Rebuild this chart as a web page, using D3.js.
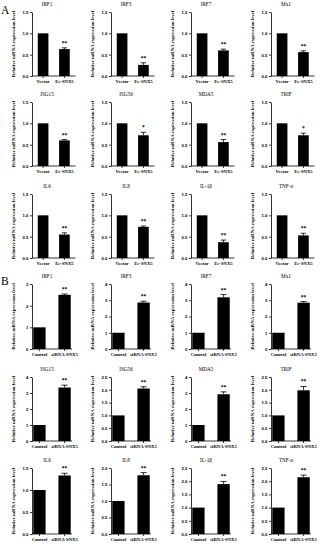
<!DOCTYPE html>
<html lang="en">
<head>
<meta charset="UTF-8">
<title>SNX5 qPCR panels</title>
<script src="https://d3js.org/d3.v7.min.js"></script>
<style>
  body { margin: 0; background: #fff; }
  svg { display: block; font-family: "Liberation Serif", "DejaVu Serif", serif; }
  .tick text { font-weight: bold; font-size: 4.3px; }
  .axis path, .axis line { stroke: #000; stroke-width: 0.8; }
</style>
</head>
<body>
<svg width="326" height="550"></svg>
<script>
// genes (panel titles), shared by A and B
const genes = ["IRF1", "IRF3", "IRF7", "Mx1", "ISG15", "ISG56", "MDA5", "TRIF", "IL6", "IL8", "IL-1β", "TNF-α"];

// panel A: overexpression
const groupsA = ["Vector", "Ec-SNX5"];
const ctrlA = [1, 1, 1, 1, 1, 1, 1, 1, 1, 1, 1, 1];
const valuesA = [0.63, 0.26, 0.60, 0.56, 0.60, 0.72, 0.56, 0.72, 0.55, 0.73, 0.37, 0.53];
const errorsA = [0.03, 0.05, 0.03, 0.03, 0.02, 0.07, 0.06, 0.05, 0.04, 0.02, 0.05, 0.05];
const starsA = ["**", "**", "**", "**", "**", "*", "**", "*", "**", "**", "**", "**"];
const yMaxA = [1.5, 1.5, 1.5, 1.5, 1.5, 1.5, 1.5, 1.5, 1.5, 1.5, 1.5, 1.5];
const stepA = [0.5, 0.5, 0.5, 0.5, 0.5, 0.5, 0.5, 0.5, 0.5, 0.5, 0.5, 0.5];

// panel B: knockdown
const groupsB = ["Control", "siRNA-SNX5"];
const ctrlB = [1, 1, 1, 1, 1, 1, 1, 1, 1, 1, 1, 1];
const valuesB = [2.50, 2.86, 3.18, 2.85, 3.34, 2.05, 2.92, 1.98, 1.33, 1.78, 1.89, 2.15];
const errorsB = [0.04, 0.08, 0.17, 0.07, 0.15, 0.07, 0.15, 0.15, 0.05, 0.08, 0.10, 0.08];
const starsB = ["**", "**", "**", "**", "**", "**", "**", "**", "**", "**", "**", "**"];
const yMaxB = [3, 4, 4, 4, 4, 2.5, 4, 2.5, 1.5, 2.0, 2.5, 2.5];
const stepB = [1, 1, 1, 1, 1, 0.5, 1, 0.5, 0.5, 0.5, 0.5, 0.5];

const svg = d3.select("svg");

// axis x of each column, and y-axis top/bottom of each row
const colX = [32, 111, 191, 271];
const rowsA = [[12, 76], [102, 166], [194, 258]];
const rowsB = [[284, 349], [377, 441], [468, 534]];

function panel(i, rows, groups, ctrl, vals, errs, stars, yMax, step, band) {
    const ax = colX[i % 4];
    const [top, bottom] = rows[Math.floor(i / 4)];
    const g = svg.append("g");

    const y = d3.scaleLinear().domain([0, yMax[i]]).range([bottom, top]);
    const x = d3.scaleBand().domain(groups)
        .range([ax, ax + band.w])
        .paddingInner(band.pi)
        .paddingOuter(band.po);

    const data = [
        {grp: groups[0], v: ctrl[i], e: 0},
        {grp: groups[1], v: vals[i], e: errs[i]}
    ];

    // bars
    g.selectAll("rect").data(data).enter().append("rect")
        .attr("x", d => x(d.grp))
        .attr("width", x.bandwidth())
        .attr("y", d => y(d.v))
        .attr("height", d => y(0) - y(d.v))
        .attr("fill", "#000");

    // error bars
    const eb = data.filter(d => d.e > 0);
    g.selectAll(".err").data(eb).enter().append("line")
        .attr("x1", d => x(d.grp) + x.bandwidth() / 2)
        .attr("x2", d => x(d.grp) + x.bandwidth() / 2)
        .attr("y1", d => y(d.v))
        .attr("y2", d => y(d.v + d.e))
        .attr("stroke", "#000").attr("stroke-width", 0.8);
    g.selectAll(".cap").data(eb).enter().append("line")
        .attr("x1", d => x(d.grp) + x.bandwidth() * 0.25)
        .attr("x2", d => x(d.grp) + x.bandwidth() * 0.75)
        .attr("y1", d => y(d.v + d.e))
        .attr("y2", d => y(d.v + d.e))
        .attr("stroke", "#000").attr("stroke-width", 0.8);

    // significance
    g.append("text")
        .attr("x", x(groups[1]) + x.bandwidth() / 2)
        .attr("y", y(vals[i] + errs[i]) - 3)
        .attr("text-anchor", "middle")
        .attr("font-size", 5.5).attr("font-weight", "bold")
        .text(stars[i]);

    // y axis
    const tv = d3.range(0, yMax[i] + 1e-9, step[i]);
    const fmt = step[i] >= 1 ? d3.format("d") : d3.format(".1f");
    g.append("g").attr("class", "axis")
        .attr("transform", `translate(${ax},0)`)
        .call(d3.axisLeft(y).tickValues(tv).tickFormat(fmt).tickSize(2).tickSizeOuter(0).tickPadding(1.5));

    // x axis
    const xa = g.append("g").attr("class", "axis");
    xa.append("line")
        .attr("x1", ax).attr("x2", ax + band.w)
        .attr("y1", bottom).attr("y2", bottom);
    xa.selectAll(".xt").data(groups).enter().append("line")
        .attr("x1", d => x(d) + x.bandwidth() / 2)
        .attr("x2", d => x(d) + x.bandwidth() / 2)
        .attr("y1", bottom).attr("y2", bottom + 2);
    xa.selectAll("text").data(groups).enter().append("text")
        .attr("x", d => x(d) + x.bandwidth() / 2)
        .attr("y", bottom + 6.5)
        .attr("text-anchor", "middle")
        .attr("font-size", 4.7).attr("font-weight", "bold")
        .text(d => d);

    // y label
    g.append("text")
        .attr("transform", `translate(${ax - 17},${(top + bottom) / 2}) rotate(-90)`)
        .attr("text-anchor", "middle")
        .attr("font-size", 4.9).attr("font-weight", "bold")
        .text("Relative mRNA expression level");

    // title
    g.append("text")
        .attr("x", ax + 15)
        .attr("y", top - 6)
        .attr("text-anchor", "middle")
        .attr("font-size", 5.2)
        .text(genes[i]);
}

const bandA = {w: 43.5, pi: 0.5, po: 0.27};
const bandB = {w: 40, pi: 0.51, po: 0.05};

genes.forEach((_, i) => panel(i, rowsA, groupsA, ctrlA, valuesA, errorsA, starsA, yMaxA, stepA, bandA));
genes.forEach((_, i) => panel(i, rowsB, groupsB, ctrlB, valuesB, errorsB, starsB, yMaxB, stepB, bandB));

// panel letters
svg.append("text").attr("x", 1).attr("y", 14).attr("font-size", 11.5).text("A");
svg.append("text").attr("x", 1).attr("y", 285).attr("font-size", 11.5).text("B");
</script>
</body>
</html>
